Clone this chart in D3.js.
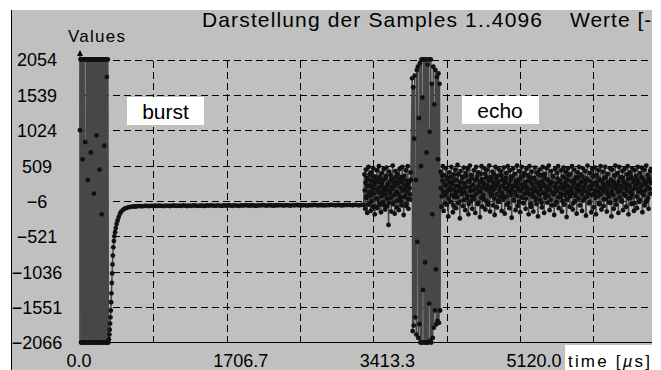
<!DOCTYPE html>
<html><head><meta charset="utf-8">
<script src="https://cdn.jsdelivr.net/npm/d3@7"></script>
<style>html,body{margin:0;padding:0;background:#fff}svg{display:block}</style>
</head><body>
<svg id="chart" width="661" height="370"></svg>
<script>
// ---- axis / tick data ----
const xTickValues = [0, 1706.7, 3413.3, 5120.0];
const xGridValues = [853.3, 1706.7, 2560.0, 3413.3, 4266.7, 5120.0, 5973.3];
const yTickValues = [2054, 1539, 1024, 509, -6, -521, -1036, -1551, -2066];
const xDomain = [0, 6826.7];
const yDomain = [-2066, 2054];

// ---- sample series (time in µs, value) ----
const burstStart = 0, burstStep = 6;
const burstValues = [1024, 2054, -2066, 2054, -2066, 600, 2054, -2066, 2054, -2066, 850, -2066, 2054, -2066, 2054, 300, -2066, 2054, -2066, 2054, -2066, 700, 2054, -2066, 2054, -2066, 2054, 100, -2066, 2054, -2066, 2054, 950, -2066, 2054, -2066, 2054, -2066, 450, 2054, -2066, 2054, -200, -2066, 2054, -2066, 2054, 800, -2066, 2054, -2066, 2054, 1800, -2066, 2054];

const decayTimes = [330, 336, 342, 346, 350, 354, 358, 362, 366, 370, 374, 378, 382, 388, 394, 400, 408, 416, 426, 438, 450, 465, 480, 500, 520, 545, 570, 600, 630];
const decayValues = [-2066, -2020, -1950, -1880, -1790, -1700, -1600, -1480, -1350, -1200, -1060, -930, -800, -680, -590, -520, -460, -400, -340, -290, -240, -190, -160, -135, -118, -105, -96, -90, -86];

const flatStart = 650, flatStep = 25;
const flatValues = [-86, -82, -80, -83, -78, -77, -81, -76, -79, -75,
  -78, -74, -77, -80, -73, -76, -79, -72, -75, -78,
  -74, -77, -71, -75, -79, -73, -76, -70, -74, -77,
  -72, -75, -78, -71, -74, -69, -73, -76, -70, -73,
  -77, -71, -74, -68, -72, -75, -69, -73, -76, -70,
  -72, -67, -71, -74, -68, -72, -75, -69, -71, -66,
  -70, -73, -67, -71, -74, -68, -70, -65, -69, -72,
  -66, -70, -73, -67, -69, -64, -68, -71, -65, -69,
  -72, -66, -68, -63, -67, -70, -64, -68, -71, -65,
  -67, -62, -66, -69, -63, -67, -70, -64, -66, -61,
  -65, -68, -62, -66, -69, -63, -65];

const noise1Start = 3310, noise1Step = 8;
const noise1Values = [380, -120, 450, 60, -180, 310, 490, -40, 220, -150, 410, 120, -90, 470, 260, -200, 350, 30, 440, -110, 180, 500, -60, 290, -170, 400, 90, -20, 460, 150, -130, 330, 480, -80, 240, -355, 420, 40, 370, -160, 200, 510, -30, 300, -190, 430, 110, -100, 390, 270, -140, 460, 10, 340, -70, 490, 160, -210, 360, 70, 440, -50, 230, 500, -120, 280, 20, 410];
const noise1bStart = 3314, noise1bStep = 8;
const noise1bValues = [150, 260, 40, 330, 210, -60, 120, 380, 70, 290,
  -10, 180, 350, 100, 230, -90, 310, 160, 20, 270,
  120, -40, 340, 200, 60, 250, 140, 300, -70, 190,
  90, 360, 30, 220, 150, -30, 280, 110, 40, 320,
  170, -50, 260, 80, 210, 350, 130, 0, 240, 100,
  310, 60, 190, -20, 270, 140, 330, 50, 230, 170,
  -80, 290, 120, 20, 260, 180, 90, 300];

const echoStart = 3865, echoStep = 6;
const echoValues = [1780, -1900, 1650, -1820, 900, 1820, -1700, 300, -1950, 1900, -600, 1950, -2000, 1200, -1800, 2000, -2066, 500, 2054, -2066, 1500, -1300, 2054, -2066, 2054, -900, -2066, 2054, 700, -2066, 1980, -2066, 2054, -1500, 1000, -2040, 2054, -2066, 1700, -200, -2000, 1950, -1850, 1400, -1600, 1900, -1000, -1800, 1800, -1750, 600, 1850, -1780, 1700, -1600];

const noise2Start = 4195, noise2Step = 9;
const noise2Values = [420, -90, 360, 500, -150, 240, 80, 470, -60, 330,
  -230, 410, 150, -20, 490, 270, -170, 380, 50, 450,
  -110, 300, 520, -40, 210, -260, 430, 120, 350, -80,
  480, 190, -140, 400, 30, 460, -200, 280, 510, -10,
  370, -120, 230, 440, 70, -180, 490, 320, -50, 410,
  140, -240, 390, 500, -90, 260, 20, 470, -130, 340,
  450, -30, 180, 510, -160, 300, 90, 420, -70, 380,
  -210, 490, 240, -100, 360, 460, -20, 200, 430, -150,
  310, 60, 480, -190, 270, 400, -60, 500, 130, -110,
  440, 350, -250, 210, 470, 0, 390, -140, 290, 510,
  -80, 170, 430, -170, 340, 490, 40, -40, 400, 250,
  -120, 460, 110, 370, -200, 500, 280, -90, 420, 60,
  -160, 330, 480, 150, -50, 410, -230, 260, 450, 10,
  370, -100, 490, 220, -180, 390, 80, 470, -30, 300,
  510, -140, 240, 430, -70, 360, 120, -210, 460, 190,
  -20, 400, 500, -110, 280, 50, 440, -160, 350, 480,
  -60, 200, 420, -240, 310, 470, 100, -90, 390, 160,
  500, -130, 260, 450, -10, 340, -190, 410, 230, 490,
  -70, 380, 140, -150, 470, 290, 30, 430, -220, 320,
  510, 90, -40, 400, 210, -170, 460, 350, -100, 250,
  480, -200, 370, 60, 440, -50, 300, 500, -130, 180,
  420, -80, 330, 490, 20, -160, 390, 240, -30, 470,
  110, -230, 450, 280, -120, 360, 510, -60, 210, 400,
  -180, 490, 150, 340, -10, 430, -140, 270, 460, 70,
  -90, 380, 500, -200, 230, 410, 40, -50, 470, 310,
  -150, 440, 190, 360, -110, 490, 260, -20, 400, 130,
  480, -170, 320, 450, -70, 250, 510, 0, 370, -120,
  290, 430, 460];
const noise2bStart = 4199.5, noise2bStep = 9;
const noise2bValues = [180, 60, 290, 130, 370, -40, 220, 100, 310, 150,
  30, 260, 190, 340, 80, 240, -70, 160, 300, 110,
  210, 50, 380, 140, -20, 270, 170, 90, 330, 10,
  250, 120, 200, 360, 70, 280, -50, 190, 140, 320,
  60, 230, 150, 20, 300, 180, 100, 350, -30, 210,
  270, 130, 40, 310, 190, 80, 240, 390, 0, 160,
  220, -60, 290, 120, 340, 70, 200, 150, 260, 30,
  180, 320, 90, 230, -10, 280, 140, 50, 370, 110,
  210, 20, 260, 170, 330, 60, 190, -40, 240, 130,
  300, 80, 160, 350, 10, 220, 120, 280, 70, 190,
  250, -20, 310, 140, 50, 230, 180, 360, 100, 270,
  30, 200, 150, 290, 90, 340, -50, 170, 240, 120,
  60, 310, 190, 20, 260, 130, 380, 80, 210, 160,
  -30, 280, 110, 230, 330, 40, 190, 140, 300, 70,
  220, 160, 10, 270, 120, 350, 90, 200, -60, 250,
  140, 320, 50, 180, 290, 100, 230, -10, 170, 340,
  80, 260, 130, 20, 210, 370, 150, 60, 280, 190,
  110, -40, 240, 300, 70, 180, 130, 330, 30, 220,
  160, 270, 90, 350, 0, 200, 140, 250, 50, 310,
  120, 190, -20, 280, 170, 80, 230, 360, 100, 150,
  40, 260, 210, 130, 320, -50, 180, 90, 290, 140,
  240, 20, 200, 340, 110, 160, 270, 60, 220, -30,
  300, 130, 190, 80, 250, 370, 10, 170, 230, 120,
  280, 50, 150, 210, -10, 330, 100, 260, 180, 70,
  240, 140, 310, 30, 200, 120, 350, 90, 160, 270,
  -40, 220, 180, 60, 300, 130, 250, 10, 190, 340,
  110, 230, 80, 290, 150, -20, 270, 200, 40, 320,
  170, 100, 260];

// ---- build the series ----
const pts = [];
const addRun = (vals, start, step) => vals.forEach((v, i) => pts.push([start + i * step, v]));
addRun(burstValues, burstStart, burstStep);
decayValues.forEach((v, i) => pts.push([decayTimes[i], v]));
addRun(flatValues, flatStart, flatStep);
addRun(noise1Values, noise1Start, noise1Step);
addRun(noise1bValues, noise1bStart, noise1bStep);
addRun(echoValues, echoStart, echoStep);
addRun(noise2Values, noise2Start, noise2Step);
addRun(noise2bValues, noise2bStart, noise2bStep);
pts.sort((a, b) => a[0] - b[0]);

const svg = d3.select("#chart");
const W = 661, H = 370;
const panel = {x0: 11, y0: 10, x1: 652};
const x = d3.scaleLinear().domain(xDomain).range([80, 666.7]);
const y = d3.scaleLinear().domain(yDomain).range([342.5, 59.5]);

const txtFont = "'Liberation Sans',Arial,sans-serif";

// panel background
svg.append("rect").attr("x", panel.x0).attr("y", panel.y0).attr("width", W - panel.x0).attr("height", H - panel.y0).attr("fill", "#c0c0c0");
svg.append("line").attr("x1", 11.5).attr("x2", 11.5).attr("y1", panel.y0).attr("y2", H).attr("stroke", "#000");

// grid
const gx = svg.append("g").attr("transform", `translate(0,${y(-2066)})`)
  .call(d3.axisBottom(x).tickValues(xGridValues).tickSize(-(y(-2066) - y(2054))).tickFormat(""));
gx.select(".domain").remove();
gx.selectAll("line").attr("stroke", "#000").attr("stroke-dasharray", "7,4").attr("shape-rendering", "crispEdges");
const gy = svg.append("g").attr("transform", `translate(80,0)`)
  .call(d3.axisLeft(y).tickValues(yTickValues.filter(v => v !== -2066)).tickSize(-(666.7 - 80)).tickFormat(""));
gy.select(".domain").remove();
gy.selectAll("line").attr("stroke", "#000").attr("stroke-dasharray", "7,4").attr("shape-rendering", "crispEdges");

// axes lines
svg.append("line").attr("x1", 80).attr("x2", 666).attr("y1", y(-2066)).attr("y2", y(-2066)).attr("stroke", "#000").attr("stroke-width", 1.2);
svg.append("line").attr("x1", 80).attr("x2", 80).attr("y1", y(-2066)).attr("y2", 54).attr("stroke", "#000");
svg.append("path").attr("d", "M80,50 L77,56 L83,56 Z").attr("fill", "#000");

// series line + dots
svg.append("path").datum(pts)
  .attr("d", d3.line().x(d => x(d[0])).y(d => y(d[1])))
  .attr("fill", "none").attr("stroke", "#474747").attr("stroke-width", 1.5);
svg.append("g").selectAll("circle").data(pts).join("circle")
  .attr("cx", d => x(d[0])).attr("cy", d => y(d[1])).attr("r", 2.4).attr("fill", "#111");

// x tick labels
const ax = svg.append("g").attr("transform", `translate(0,${y(-2066)})`)
  .call(d3.axisBottom(x).tickValues(xTickValues).tickSize(0).tickFormat(d3.format(".1f")));
ax.select(".domain").remove();
ax.selectAll("text").attr("x", -14).attr("y", 24.5).attr("dy", 0).attr("text-anchor", "start")
  .attr("font-family", txtFont).attr("font-size", 18).attr("fill", "#000");

// y tick labels
const ay = svg.append("g").attr("transform", `translate(80,0)`)
  .call(d3.axisLeft(y).tickValues(yTickValues).tickSize(0).tickFormat(d3.format("d")));
ay.select(".domain").remove();
ay.selectAll("text").attr("x", -43).attr("dy", "0.36em").attr("text-anchor", "middle")
  .attr("font-family", txtFont).attr("font-size", 18).attr("fill", "#000");

// titles
svg.append("text").attr("x", 202).attr("y", 26.5).attr("font-family", txtFont).attr("font-size", 21)
  .attr("textLength", 340).attr("lengthAdjust", "spacing").text("Darstellung der Samples 1..4096");
svg.append("text").attr("x", 570).attr("y", 26.5).attr("font-family", txtFont).attr("font-size", 21)
  .attr("letter-spacing", 1).text("Werte [-2066..2054]");
svg.append("text").attr("x", 68).attr("y", 42).attr("font-family", txtFont).attr("font-size", 17)
  .attr("textLength", 57).attr("lengthAdjust", "spacing").text("Values");

// annotation boxes
svg.append("rect").attr("x", 127).attr("y", 97).attr("width", 77).attr("height", 28).attr("fill", "#fff");
svg.append("text").attr("x", 165.5).attr("y", 119).attr("text-anchor", "middle").attr("font-family", txtFont).attr("font-size", 21).text("burst");
svg.append("rect").attr("x", 462).attr("y", 96).attr("width", 77).attr("height", 28).attr("fill", "#fff");
svg.append("text").attr("x", 500).attr("y", 117.5).attr("text-anchor", "middle").attr("font-family", txtFont).attr("font-size", 21).text("echo");

// x axis title box
svg.append("rect").attr("x", 565).attr("y", 345).attr("width", 96).attr("height", 25).attr("fill", "#fff");
const tt = svg.append("text").attr("x", 568).attr("y", 366.5).attr("font-family", txtFont).attr("font-size", 17)
  .attr("textLength", 82).attr("lengthAdjust", "spacing");
tt.append("tspan").text("time [");
tt.append("tspan").attr("font-style", "italic").text("µ");
tt.append("tspan").text("s]");

// outside-of-window masks
svg.append("rect").attr("x", 0).attr("y", 0).attr("width", W).attr("height", panel.y0).attr("fill", "#fff");
svg.append("rect").attr("x", 0).attr("y", 0).attr("width", 11).attr("height", H).attr("fill", "#fff");
svg.append("rect").attr("x", panel.x1).attr("y", 0).attr("width", W - panel.x1).attr("height", H).attr("fill", "#fff");
</script>
</body></html>
